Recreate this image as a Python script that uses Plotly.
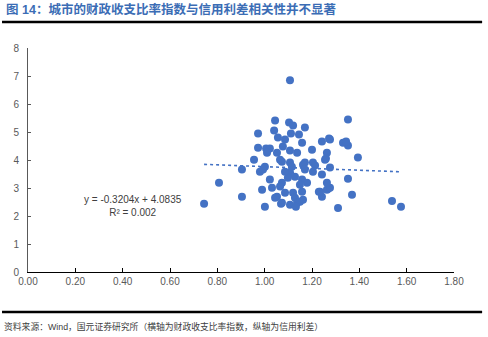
import plotly.graph_objects as go

# Fiscal revenue/expenditure ratio index (x) vs. credit spread (y)
ratio_index = [
    0.744, 0.807, 0.904, 1.001, 1.069, 0.955, 0.904, 0.980, 1.001, 1.538,
    1.576, 1.310, 1.369, 1.352, 1.394, 1.263, 1.259, 1.268, 1.242, 1.229,
    1.107, 1.352, 1.044, 1.103, 1.120, 1.040, 0.972, 1.111, 1.170, 1.056,
    1.158, 1.242, 1.272, 1.331, 1.352, 1.006, 1.077, 1.022, 1.010, 1.052,
    1.107, 1.137, 1.065, 1.107, 1.170, 1.204, 1.255, 1.276, 1.344, 0.993,
    1.073, 1.115, 1.107, 1.128, 1.162, 1.213, 1.204, 1.242, 1.073, 1.065,
    1.158, 1.179, 1.120, 1.128, 1.158, 1.162, 1.086, 1.052, 1.044, 1.073,
    1.137, 1.149, 1.234, 1.263, 1.276, 1.170, 1.149, 1.098, 1.022, 1.031,
    1.107, 1.132, 0.989, 1.086, 1.200, 1.145, 1.086, 0.972, 1.276, 1.263,
]
credit_spread = [
    2.44, 3.19, 2.69, 2.33, 2.44, 4.01, 3.66, 3.58, 3.76, 2.54,
    2.33, 2.29, 2.76, 3.33, 4.09, 4.26, 4.05, 2.97, 2.69, 2.87,
    6.85, 5.45, 5.41, 5.34, 5.23, 5.05, 4.95, 4.95, 5.16, 4.80,
    4.62, 4.66, 4.77, 4.62, 4.52, 4.41, 4.48, 4.41, 4.26, 4.26,
    4.34, 4.26, 4.01, 3.91, 3.91, 3.91, 4.01, 4.73, 4.66, 3.66,
    3.94, 3.76, 3.55, 3.40, 3.83, 3.80, 3.58, 3.48, 3.19, 3.05,
    3.30, 3.19, 2.83, 2.65, 2.87, 2.58, 2.83, 2.69, 2.65, 2.47,
    2.47, 2.51, 2.87, 2.94, 3.01, 3.66, 3.12, 3.37, 3.30, 3.01,
    2.40, 2.33, 2.94, 3.58, 4.37, 4.91, 4.73, 4.44, 3.73, 3.19,
]

# Linear trend reported on the chart
slope = -0.3204
intercept = 4.0835
r_squared = 0.002

x_ticks = [0.0, 0.2, 0.4, 0.6, 0.8, 1.0, 1.2, 1.4, 1.6, 1.8]
y_ticks = [0, 1, 2, 3, 4, 5, 6, 7, 8]

title_text = "图 14：城市的财政收支比率指数与信用利差相关性并不显著"
source_text = "资料来源：Wind，国元证券研究所（横轴为财政收支比率指数，纵轴为信用利差）"

blue = "#4472C4"
font_family = "Liberation Sans, Arial, Noto Sans CJK SC, sans-serif"

trend_x = [min(ratio_index), max(ratio_index)]
trend_y = [slope * v + intercept for v in trend_x]

fig = go.Figure()
fig.add_trace(go.Scatter(
    x=trend_x, y=trend_y, mode="lines",
    line=dict(color=blue, width=1.6, dash="dot"),
    hoverinfo="skip", showlegend=False,
))
fig.add_trace(go.Scatter(
    x=ratio_index, y=credit_spread, mode="markers",
    marker=dict(color=blue, size=8, line=dict(width=0)),
    showlegend=False,
))

fig.update_layout(
    width=488, height=337,
    margin=dict(l=28, r=34, t=48, b=65),
    paper_bgcolor="white", plot_bgcolor="white",
    font=dict(family=font_family, size=10, color="#595959"),
    xaxis=dict(
        range=[0, 1.8], tickvals=x_ticks, tickformat=".2f",
        showgrid=False, zeroline=False, showline=True,
        linecolor="#000000", linewidth=1,
        ticks="inside", ticklen=4, tickcolor="#000000",
        tickfont=dict(size=10, color="#595959"),
    ),
    yaxis=dict(
        range=[0, 8], tickvals=y_ticks,
        showgrid=False, zeroline=False, showline=True,
        linecolor="#595959", linewidth=1,
        ticks="inside", ticklen=3, tickcolor="#595959",
        ticklabelstandoff=6,
        tickfont=dict(size=10, color="#595959"),
    ),
    shapes=[
        dict(type="line", xref="paper", yref="paper",
             x0=-0.061, x1=1.066, y0=1.116, y1=1.116,
             line=dict(color="#000000", width=2.5)),
        dict(type="line", xref="paper", yref="paper",
             x0=-0.061, x1=1.066, y0=-0.179, y1=-0.179,
             line=dict(color="#000000", width=2.5)),
    ],
    annotations=[
        dict(text=f"<b>{title_text}</b>", xref="paper", yref="paper",
             x=-0.056, y=1.17, xanchor="left", yanchor="middle",
             showarrow=False,
             font=dict(size=12.5, color="#3B6DB5", family=font_family)),
        dict(text=source_text, xref="paper", yref="paper",
             x=-0.061, y=-0.245, xanchor="left", yanchor="middle",
             showarrow=False,
             font=dict(size=8.8, color="#404040", family=font_family)),
        dict(text=f"y = {slope}x + {intercept}<br>R² = {r_squared}",
             x=0.444, y=2.37, xref="x", yref="y",
             xanchor="center", yanchor="middle", align="center",
             showarrow=False,
             font=dict(size=10, color="#404040", family=font_family)),
    ],
)

fig.write_html("out.html")
